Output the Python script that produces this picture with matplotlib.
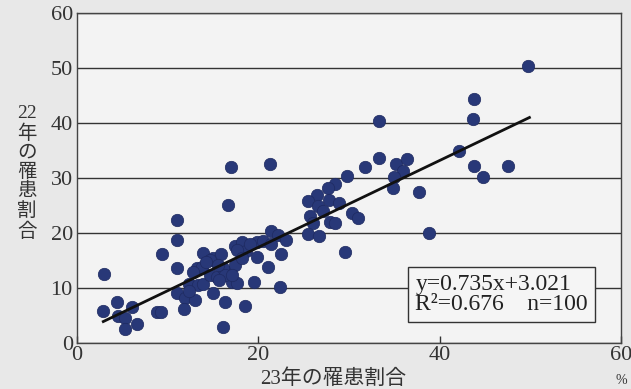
import numpy as np
import matplotlib.pyplot as plt

# 23年 (x) / 22年 (y) の罹患割合, %
rate_23 = [49.76, 43.77, 43.63, 33.26, 42.08, 43.80, 47.49, 44.80, 33.26, 31.75,
           35.14, 36.35, 35.91, 34.95, 34.81, 37.71, 29.82, 28.50, 27.71, 26.43,
           25.44, 27.82, 28.92, 26.57, 27.16, 25.66, 26.02, 27.89, 28.50, 30.34,
           30.95, 38.84, 25.47, 26.71, 29.55,
           3.01, 2.90, 4.41, 6.03, 4.52, 5.29, 5.29, 6.58, 8.79, 9.21,
           9.34, 10.99, 10.99, 10.99, 10.99, 11.91, 11.80, 12.35, 13.20, 13.75,
           13.37, 13.93, 13.01, 13.93, 14.66, 15.40, 15.03, 15.88, 15.03, 16.32,
           16.13, 16.87, 17.42, 17.06, 17.61, 17.42, 18.16, 18.52, 18.63, 19.81,
           20.54, 19.90, 19.57, 21.03, 21.37, 22.55, 22.38, 21.36, 22.16, 23.04,
           16.98, 21.33, 16.68,
           14.66, 17.61, 16.13, 16.32, 17.06, 15.66, 12.79, 14.22, 15.55, 19.07,
           12.35, 18.19]
rate_22 = [50.42, 44.31, 40.78, 40.42, 34.91, 32.18, 32.18, 30.24, 33.58, 32.05,
           32.49, 33.51, 31.33, 30.13, 28.24, 27.40, 30.45, 29.00, 28.18, 27.00,
           25.87, 26.00, 25.45, 24.85, 24.09, 23.05, 21.87, 22.05, 21.82, 23.58,
           22.67, 19.95, 19.82, 19.40, 16.49,
           12.55, 5.87, 7.51, 6.49, 4.91, 4.55, 2.55, 3.45, 5.55, 5.55,
           16.13, 22.36, 18.64, 13.55, 9.09, 8.18, 6.18, 10.73, 13.58, 13.87,
           10.55, 10.73, 7.82, 16.31, 12.36, 12.05, 15.40, 16.13, 9.09, 7.51,
           2.91, 12.96, 14.18, 11.15, 10.85, 17.69, 18.31, 6.78, 16.64, 18.42,
           18.55, 15.64, 11.09, 13.76, 18.00, 16.15, 10.24, 20.36, 19.64, 18.73,
           32.05, 32.55, 25.18,
           15.09, 16.91, 13.58, 12.36, 12.36, 11.45, 12.91, 14.73, 14.18, 18.00,
           9.45, 15.45]

# regression line as printed
fit_x = [2.9, 49.9]
fit_y = [3.9, 41.0]

x_ticks = [0, 20, 40, 60]
y_ticks = [0, 10, 20, 30, 40, 50, 60]

serif = ['Liberation Serif', 'Noto Sans CJK JP']
plt.rcParams['font.family'] = serif

fig = plt.figure(figsize=(6.31, 3.89), dpi=100, facecolor='#e8e8e8')
ax = fig.add_axes([77 / 631, 46 / 389, 544 / 631, 330 / 389])
ax.set_facecolor('#f3f3f3')

ax.set_xlim(0, 60)
ax.set_ylim(0, 60)
ax.set_xticks(x_ticks)
ax.set_yticks(y_ticks)
ax.tick_params(axis='x', direction='in', length=5, width=1, labelsize=16, pad=2, colors='#333333')
ax.tick_params(axis='y', length=0, labelsize=16, pad=3, colors='#333333')
ax.yaxis.grid(True, color='#333333', lw=1)
ax.set_axisbelow(True)
for s in ax.spines.values():
    s.set_color('#444444')
    s.set_linewidth(1)

ax.scatter(rate_23, rate_22, s=80, color='#283878', edgecolors='#1e2a60', linewidths=0.5, zorder=3)
ax.plot(fit_x, fit_y, color='#111111', lw=2, zorder=4)

ax.text(0.622, 0.085, 'y=0.735x+3.021\nR²=0.676    n=100', transform=ax.transAxes,
        fontsize=17, color='#222222', linespacing=0.95, va='bottom', ha='left', zorder=5,
        bbox=dict(boxstyle='square,pad=0.3', fc='#f5f5f5', ec='#333333', lw=1))

fig.text(333 / 631, 1 - 379 / 389, '23年の罹患割合', ha='center', va='center',
         fontsize=15, color='#333333')
fig.text(621 / 631, 1 - 380 / 389, '%', ha='center', va='center', fontsize=10, color='#333333')
fig.text(27 / 631, 1 - 173 / 389, '22\n年\nの\n罹\n患\n割\n合', ha='center', va='center',
         fontsize=14, color='#333333', linespacing=1.15)

fig.savefig('out.png', dpi=100, facecolor=fig.get_facecolor())
